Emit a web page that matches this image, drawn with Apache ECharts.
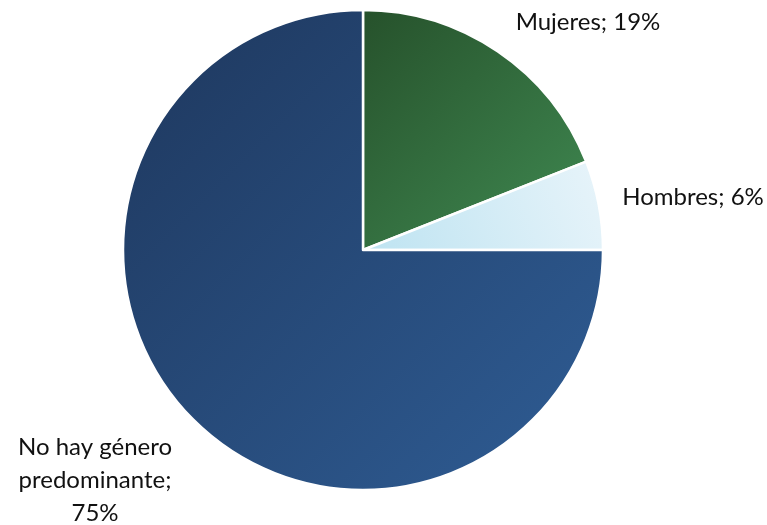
<!DOCTYPE html>
<html>
<head>
<meta charset="utf-8">
<script src="https://cdn.jsdelivr.net/npm/echarts@6/dist/echarts.min.js"></script>
<style>
html, body { margin: 0; padding: 0; background: #fff; }
#chart { width: 767px; height: 525px; }
</style>
</head>
<body>
<div id="chart"></div>
<script>
// datos
var categorias = ["Mujeres", "Hombres", "No hay género predominante"];
var valores = [19, 6, 75];

// colores degradados (inicio, fin)
var colores = [
    ["#26512b", "#408a52"],
    ["#e8f4fa", "#bde3f1"],
    ["#1e375d", "#2f5d95"]
];
// direccion del degradado por sector
var dirs = [
    [0, 0, 1, 1],
    [1, 0, 0, 1],
    [0, 0, 1, 1]
];
// posicion de etiquetas
var etiquetasPos = [
    [588, 22],
    [693, 197],
    [95, 480]
];

var myChart = echarts.init(document.getElementById("chart"));
var datos = categorias.map(function (c, i) {
    var d = dirs[i];
    return {
        name: c,
        value: valores[i],
        itemStyle: {
            color: new echarts.graphic.LinearGradient(d[0], d[1], d[2], d[3], [
                { offset: 0, color: colores[i][0] },
                { offset: 1, color: colores[i][1] }
            ])
        }
    };
});
datos[2].label = { formatter: "No hay género\npredominante;\n{d}%" };

myChart.setOption({
    animation: false,
    series: [{
        type: "pie",
        center: [363, 250],
        radius: 240,
        startAngle: 90,
        clockwise: true,
        data: datos,
        itemStyle: {
            borderColor: "#fff",
            borderWidth: 2.5
        },
        label: {
            show: true,
            position: "outside",
            formatter: "{b}; {d}%",
            color: "#111",
            fontFamily: "Lato",
            fontSize: 24,
            lineHeight: 33,
            align: "center",
            overflow: "none"
        },
        labelLine: { show: false },
        labelLayout: function (p) {
            var pos = etiquetasPos[p.dataIndex];
            return { x: pos[0], y: pos[1], align: "center", verticalAlign: "middle" };
        }
    }]
});
</script>
</body>
</html>
